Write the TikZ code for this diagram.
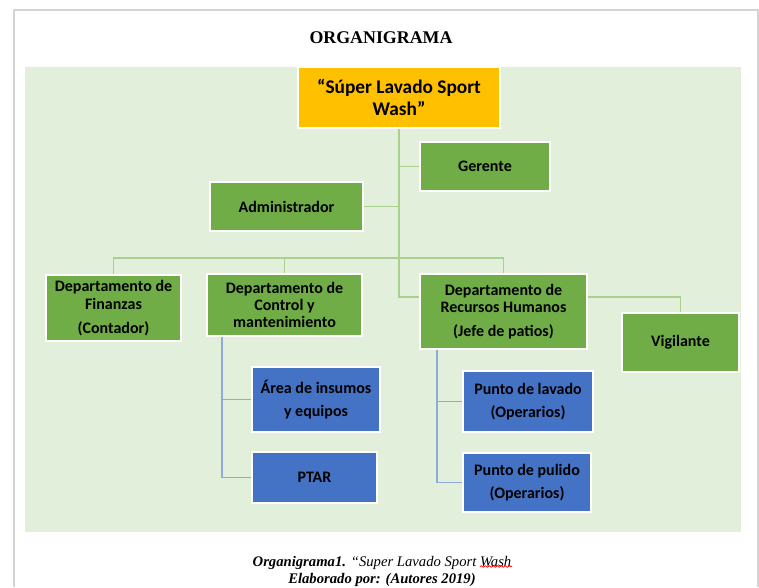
\documentclass[tikz,border=0pt]{standalone}
\usepackage{fontspec}
\setmainfont{Liberation Serif}
\newfontfamily\carlito{Carlito}
\usepackage{tikz}
\usetikzlibrary{decorations.pathmorphing}

\definecolor{bggreen}{HTML}{E2EFDA}
\definecolor{boxgreen}{HTML}{70AD47}
\definecolor{boxblue}{HTML}{4472C4}
\definecolor{boxgold}{HTML}{FFC000}
\definecolor{linegreen}{HTML}{A9D18E}
\definecolor{lineblue}{HTML}{8FAADC}
\definecolor{framegray}{HTML}{D4D4D4}

\begin{document}
\begin{tikzpicture}[x=0.75pt, y=-0.75pt,
    box/.style={draw=white, line width=0.8pt, fill=boxgreen, align=center,
        inner sep=0pt, font=\carlito\bfseries\fontsize{12}{13}\selectfont},
    bluebox/.style={box, fill=boxblue},
    link/.style={draw=linegreen, line width=1.3pt},
    bluelink/.style={draw=lineblue, line width=1.1pt}]
    \useasboundingbox (0,0) rectangle (759,587);

    % page frame and background
    \draw[framegray, line width=1.5pt] (13.5,587) -- (13.5,10) -- (758,10) -- (758,587);
    \fill[bggreen] (25,67) rectangle (741,532);

    \node[font=\bfseries\fontsize{13.4}{15}\selectfont] (title) at (381,38) {ORGANIGRAMA};

    % boxes
    \node[box, fill=boxgold, minimum width=202*0.75pt, minimum height=61*0.75pt,
        font=\carlito\bfseries\fontsize{14.5}{16}\selectfont] (sup) at (399,97.5)
        {“Súper Lavado Sport\\Wash”};
    \node[box, minimum width=130*0.75pt, minimum height=49*0.75pt] (ger) at (485,166.5) {Gerente};
    \node[box, minimum width=153*0.75pt, minimum height=49*0.75pt] (adm) at (286.5,206.5) {Administrador};
    \node[box, minimum width=135*0.75pt, minimum height=66*0.75pt] (fin) at (113.5,308)
        {Departamento de\\Finanzas\\[5pt](Contador)};
    \node[box, minimum width=155*0.75pt, minimum height=62*0.75pt] (ctrl) at (284.5,305)
        {Departamento de\\Control y\\mantenimiento};
    \node[box, minimum width=167*0.75pt, minimum height=75*0.75pt] (rrhh) at (503.5,311.5)
        {Departamento de\\Recursos Humanos\\[5pt](Jefe de patios)};
    \node[box, minimum width=117*0.75pt, minimum height=59*0.75pt] (vig) at (680.5,342.5) {Vigilante};

    \node[bluebox, minimum width=128*0.75pt, minimum height=65*0.75pt] (area) at (316,399.5)
        {Área de insumos\\[4pt]y equipos};
    \node[bluebox, minimum width=125*0.75pt, minimum height=51*0.75pt] (ptar) at (314.5,477.5) {PTAR};
    \node[bluebox, minimum width=130*0.75pt, minimum height=61*0.75pt] (lav) at (528,401.5)
        {Punto de lavado\\[4pt](Operarios)};
    \node[bluebox, minimum width=128*0.75pt, minimum height=59*0.75pt] (pul) at (527,482.5)
        {Punto de pulido\\[4pt](Operarios)};

    % connectors
    \coordinate (bar) at (399,258);
    \coordinate (knee) at (399,297);
    \draw[link] (sup.south) -- (knee) -- (knee -| rrhh.west);
    \draw[link] (ger.west) -- (ger.west -| sup.south);
    \draw[link] (adm.east) -- (adm.east -| sup.south);
    \draw[link] (fin.north) |- (bar -| rrhh.north) -- (rrhh.north);
    \draw[link] (ctrl.north) -- (ctrl.north |- bar);
    \draw[link] (knee -| rrhh.east) -| (vig.north);

    \draw[bluelink] ([xshift=-62.5*0.75pt]ctrl.south) |- (ptar.west);
    \draw[bluelink] (area.west) -- ([xshift=-62.5*0.75pt]ctrl.south |- area.west);
    \draw[bluelink] ([xshift=-66.5*0.75pt]rrhh.south) |- (pul.west);
    \draw[bluelink] (lav.west) -- ([xshift=-66.5*0.75pt]rrhh.south |- lav.west);

    % caption
    \node[align=center, font=\fontsize{11}{12.75}\selectfont] (cap) at (382,571.5)
        {\textbf{\textit{Organigrama1.}} \textit{“Super Lavado Sport Wash}\\
         \textbf{\textit{Elaborado por: (Autores 2019)}}};
    \draw[red, line width=0.5pt, decorate,
        decoration={snake, amplitude=0.6pt, segment length=3pt}] (480,566.5) -- (512,566.5);
\end{tikzpicture}
\end{document}
